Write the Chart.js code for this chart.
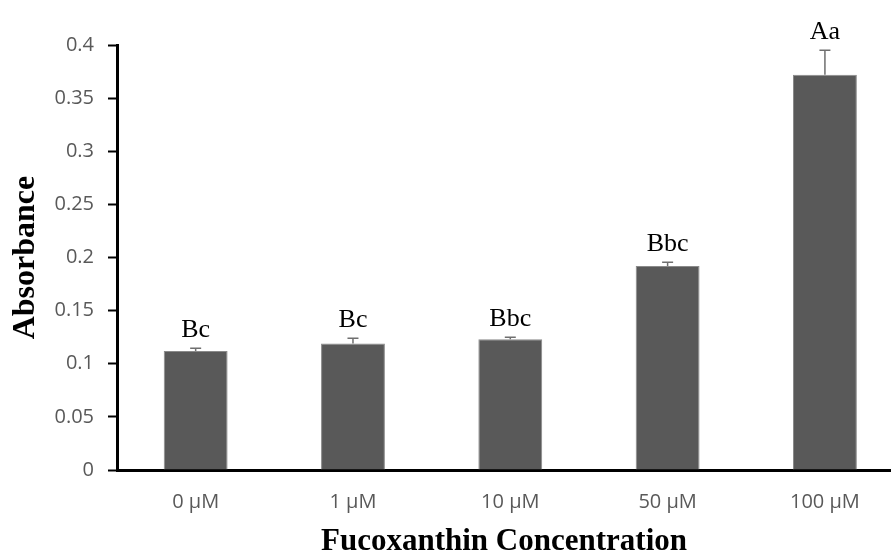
<!DOCTYPE html>
<html>
<head>
<meta charset="utf-8">
<title>Fucoxanthin absorbance</title>
<script src="https://cdn.jsdelivr.net/npm/chart.js@4.4.1/dist/chart.umd.min.js"></script>
<style>
  html, body { margin: 0; padding: 0; background: #fff; overflow: hidden; }
  #wrap { width: 891px; height: 556px; position: relative; }
</style>
</head>
<body>
<div id="wrap"><canvas id="absChart"></canvas></div>
<script>
// values
const categories = ['0 µM', '1 µM', '10 µM', '50 µM', '100 µM'];
const absorbance = [0.112, 0.119, 0.123, 0.192, 0.372];
const errorUpper = [0.0025, 0.005, 0.002, 0.0035, 0.023];
const letters = ['Bc', 'Bc', 'Bbc', 'Bbc', 'Aa'];
const yTicks = [0, 0.05, 0.1, 0.15, 0.2, 0.25, 0.3, 0.35, 0.4];

const barColor = '#595959';
const labelGrey = '#595959';

// upward error bars (Excel style, plus only)
const errorBars = {
    id: 'errorBars',
    afterDatasetsDraw(chart) {
        const ctx = chart.ctx;
        const yScale = chart.scales.y;
        const meta = chart.getDatasetMeta(0);
        ctx.save();
        ctx.strokeStyle = '#6f6f6f';
        ctx.lineWidth = 1.5;
        meta.data.forEach((bar, i) => {
            const top = yScale.getPixelForValue(absorbance[i] + errorUpper[i]);
            ctx.beginPath();
            ctx.moveTo(bar.x, bar.y);
            ctx.lineTo(bar.x, top);
            ctx.moveTo(bar.x - 5.5, top);
            ctx.lineTo(bar.x + 5.5, top);
            ctx.stroke();
        });
        ctx.restore();
    }
};

// significance letters above each error bar
const sigLetters = {
    id: 'sigLetters',
    afterDraw(chart) {
        const ctx = chart.ctx;
        const yScale = chart.scales.y;
        const meta = chart.getDatasetMeta(0);
        ctx.save();
        ctx.font = '26px "Liberation Serif", "Times New Roman", serif';
        ctx.fillStyle = '#000';
        ctx.textAlign = 'center';
        ctx.textBaseline = 'alphabetic';
        meta.data.forEach((bar, i) => {
            const top = yScale.getPixelForValue(absorbance[i] + errorUpper[i]);
            ctx.fillText(letters[i], bar.x, top - 11);
        });
        ctx.restore();
    }
};

const ctx = document.getElementById('absChart').getContext('2d');
new Chart(ctx, {
    type: 'bar',
    data: {
        datasets: [{
            data: categories.map((c, i) => ({ x: i, y: absorbance[i] })),
            backgroundColor: barColor,
            borderColor: '#8a8a8a',
            borderWidth: 1,
            categoryPercentage: 1,
            barPercentage: 0.406
        }]
    },
    options: {
        responsive: true,
        maintainAspectRatio: false,
        animation: false,
        layout: { padding: { top: 45, right: 0, bottom: 0, left: 0 } },
        plugins: {
            legend: { display: false },
            tooltip: { enabled: false }
        },
        scales: {
            x: {
                type: 'linear',
                bounds: 'data',
                offset: false,
                min: -0.5,
                max: 4.42,
                afterBuildTicks: (axis) => { axis.ticks = categories.map((c, i) => ({ value: i })); },
                afterFit: (axis) => { axis.height = 86; },
                grid: { display: false, drawTicks: false },
                border: { display: true, color: '#000', width: 3 },
                ticks: {
                    autoSkip: false,
                    maxRotation: 0,
                    padding: 20,
                    color: labelGrey,
                    font: { family: '"Open Sans"', size: 20 },
                    callback: (v) => categories[v]
                },
                title: {
                    display: true,
                    text: 'Fucoxanthin Concentration',
                    color: '#000',
                    font: { family: '"Liberation Serif"', size: 31, weight: 'bold', lineHeight: 0.9 },
                    padding: { top: 0, bottom: 0 }
                }
            },
            y: {
                min: 0,
                max: 0.4,
                bounds: 'data',
                afterBuildTicks: (axis) => { axis.ticks = yTicks.map(v => ({ value: v })); },
                afterFit: (axis) => { axis.width = 117; },
                grid: {
                    display: true,
                    drawOnChartArea: false,
                    drawTicks: true,
                    tickLength: 9,
                    tickColor: '#000',
                    tickWidth: 2
                },
                border: { display: true, color: '#000', width: 3 },
                ticks: {
                    padding: 14,
                    color: labelGrey,
                    font: { family: '"Open Sans"', size: 20 },
                    callback: (v) => String(parseFloat(Number(v).toFixed(2)))
                },
                title: {
                    display: true,
                    text: 'Absorbance',
                    color: '#000',
                    font: { family: '"Liberation Serif"', size: 32, weight: 'bold' },
                    padding: { top: 7, bottom: 0 }
                }
            }
        }
    },
    plugins: [errorBars, sigLetters]
});
</script>
</body>
</html>
